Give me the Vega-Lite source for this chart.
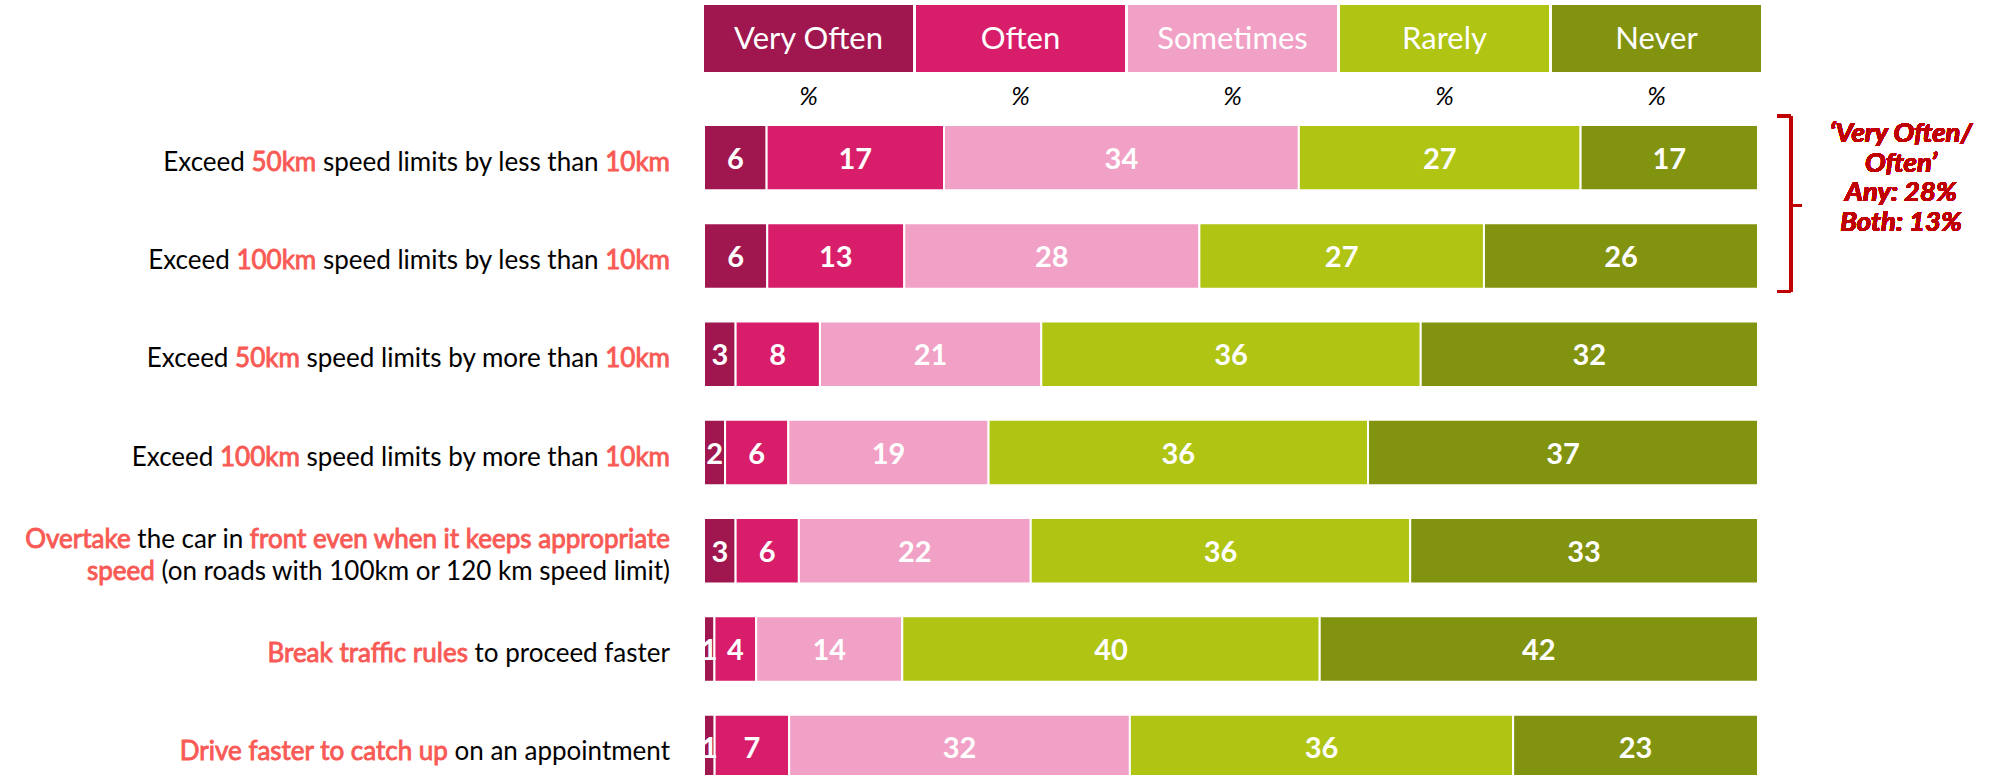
{
  "$schema": "https://vega.github.io/schema/vega-lite/v6.json",
  "padding": {"left": 24, "top": 5, "right": 5, "bottom": 0},
  "spacing": 5,
  "config": {"font": "Lato", "view": {"stroke": null}},
  "datasets": {
    "scale": [
      {"resp": "Very Often", "k": 1},
      {"resp": "Often", "k": 2},
      {"resp": "Sometimes", "k": 3},
      {"resp": "Rarely", "k": 4},
      {"resp": "Never", "k": 5}
    ],
    "bars": [
      {"item": "Exceed 50km speed limits by less than 10km", "resp": "Very Often", "k": 1, "pct": 6},
      {"item": "Exceed 50km speed limits by less than 10km", "resp": "Often", "k": 2, "pct": 17},
      {"item": "Exceed 50km speed limits by less than 10km", "resp": "Sometimes", "k": 3, "pct": 34},
      {"item": "Exceed 50km speed limits by less than 10km", "resp": "Rarely", "k": 4, "pct": 27},
      {"item": "Exceed 50km speed limits by less than 10km", "resp": "Never", "k": 5, "pct": 17},
      {"item": "Exceed 100km speed limits by less than 10km", "resp": "Very Often", "k": 1, "pct": 6},
      {"item": "Exceed 100km speed limits by less than 10km", "resp": "Often", "k": 2, "pct": 13},
      {"item": "Exceed 100km speed limits by less than 10km", "resp": "Sometimes", "k": 3, "pct": 28},
      {"item": "Exceed 100km speed limits by less than 10km", "resp": "Rarely", "k": 4, "pct": 27},
      {"item": "Exceed 100km speed limits by less than 10km", "resp": "Never", "k": 5, "pct": 26},
      {"item": "Exceed 50km speed limits by more than 10km", "resp": "Very Often", "k": 1, "pct": 3},
      {"item": "Exceed 50km speed limits by more than 10km", "resp": "Often", "k": 2, "pct": 8},
      {"item": "Exceed 50km speed limits by more than 10km", "resp": "Sometimes", "k": 3, "pct": 21},
      {"item": "Exceed 50km speed limits by more than 10km", "resp": "Rarely", "k": 4, "pct": 36},
      {"item": "Exceed 50km speed limits by more than 10km", "resp": "Never", "k": 5, "pct": 32},
      {"item": "Exceed 100km speed limits by more than 10km", "resp": "Very Often", "k": 1, "pct": 2},
      {"item": "Exceed 100km speed limits by more than 10km", "resp": "Often", "k": 2, "pct": 6},
      {"item": "Exceed 100km speed limits by more than 10km", "resp": "Sometimes", "k": 3, "pct": 19},
      {"item": "Exceed 100km speed limits by more than 10km", "resp": "Rarely", "k": 4, "pct": 36},
      {"item": "Exceed 100km speed limits by more than 10km", "resp": "Never", "k": 5, "pct": 37},
      {"item": "Overtake the car in front even when it keeps appropriate speed (on roads with 100km or 120 km speed limit)", "resp": "Very Often", "k": 1, "pct": 3},
      {"item": "Overtake the car in front even when it keeps appropriate speed (on roads with 100km or 120 km speed limit)", "resp": "Often", "k": 2, "pct": 6},
      {"item": "Overtake the car in front even when it keeps appropriate speed (on roads with 100km or 120 km speed limit)", "resp": "Sometimes", "k": 3, "pct": 22},
      {"item": "Overtake the car in front even when it keeps appropriate speed (on roads with 100km or 120 km speed limit)", "resp": "Rarely", "k": 4, "pct": 36},
      {"item": "Overtake the car in front even when it keeps appropriate speed (on roads with 100km or 120 km speed limit)", "resp": "Never", "k": 5, "pct": 33},
      {"item": "Break traffic rules to proceed faster", "resp": "Very Often", "k": 1, "pct": 1},
      {"item": "Break traffic rules to proceed faster", "resp": "Often", "k": 2, "pct": 4},
      {"item": "Break traffic rules to proceed faster", "resp": "Sometimes", "k": 3, "pct": 14},
      {"item": "Break traffic rules to proceed faster", "resp": "Rarely", "k": 4, "pct": 40},
      {"item": "Break traffic rules to proceed faster", "resp": "Never", "k": 5, "pct": 42},
      {"item": "Drive faster to catch up on an appointment", "resp": "Very Often", "k": 1, "pct": 1},
      {"item": "Drive faster to catch up on an appointment", "resp": "Often", "k": 2, "pct": 7},
      {"item": "Drive faster to catch up on an appointment", "resp": "Sometimes", "k": 3, "pct": 32},
      {"item": "Drive faster to catch up on an appointment", "resp": "Rarely", "k": 4, "pct": 36},
      {"item": "Drive faster to catch up on an appointment", "resp": "Never", "k": 5, "pct": 23}
    ],
    "labels": [
      {"item": "Exceed 50km speed limits by less than 10km", "seq": 1, "emph": false, "text": "Exceed 50km speed limits by less than 10km"},
      {"item": "Exceed 50km speed limits by less than 10km", "seq": 2, "emph": true, "text": "50km speed limits by less than 10km"},
      {"item": "Exceed 50km speed limits by less than 10km", "seq": 3, "emph": false, "text": "speed limits by less than 10km"},
      {"item": "Exceed 50km speed limits by less than 10km", "seq": 4, "emph": true, "text": "10km"},
      {"item": "Exceed 100km speed limits by less than 10km", "seq": 1, "emph": false, "text": "Exceed 100km speed limits by less than 10km"},
      {"item": "Exceed 100km speed limits by less than 10km", "seq": 2, "emph": true, "text": "100km speed limits by less than 10km"},
      {"item": "Exceed 100km speed limits by less than 10km", "seq": 3, "emph": false, "text": "speed limits by less than 10km"},
      {"item": "Exceed 100km speed limits by less than 10km", "seq": 4, "emph": true, "text": "10km"},
      {"item": "Exceed 50km speed limits by more than 10km", "seq": 1, "emph": false, "text": "Exceed 50km speed limits by more than 10km"},
      {"item": "Exceed 50km speed limits by more than 10km", "seq": 2, "emph": true, "text": "50km speed limits by more than 10km"},
      {"item": "Exceed 50km speed limits by more than 10km", "seq": 3, "emph": false, "text": "speed limits by more than 10km"},
      {"item": "Exceed 50km speed limits by more than 10km", "seq": 4, "emph": true, "text": "10km"},
      {"item": "Exceed 100km speed limits by more than 10km", "seq": 1, "emph": false, "text": "Exceed 100km speed limits by more than 10km"},
      {"item": "Exceed 100km speed limits by more than 10km", "seq": 2, "emph": true, "text": "100km speed limits by more than 10km"},
      {"item": "Exceed 100km speed limits by more than 10km", "seq": 3, "emph": false, "text": "speed limits by more than 10km"},
      {"item": "Exceed 100km speed limits by more than 10km", "seq": 4, "emph": true, "text": "10km"},
      {"item": "Overtake the car in front even when it keeps appropriate speed (on roads with 100km or 120 km speed limit)", "seq": 1, "emph": true, "text": "Overtake the car in front even when it keeps appropriate\nspeed (on roads with 100km or 120 km speed limit)"},
      {"item": "Overtake the car in front even when it keeps appropriate speed (on roads with 100km or 120 km speed limit)", "seq": 2, "emph": false, "text": "the car in front even when it keeps appropriate\n(on roads with 100km or 120 km speed limit)"},
      {"item": "Overtake the car in front even when it keeps appropriate speed (on roads with 100km or 120 km speed limit)", "seq": 3, "emph": true, "text": "front even when it keeps appropriate\n"},
      {"item": "Break traffic rules to proceed faster", "seq": 1, "emph": true, "text": "Break traffic rules to proceed faster"},
      {"item": "Break traffic rules to proceed faster", "seq": 2, "emph": false, "text": "to proceed faster"},
      {"item": "Drive faster to catch up on an appointment", "seq": 1, "emph": true, "text": "Drive faster to catch up on an appointment"},
      {"item": "Drive faster to catch up on an appointment", "seq": 2, "emph": false, "text": "on an appointment"}
    ]
  },
  "vconcat": [
    {
      "width": 1057,
      "height": 67,
      "data": {"name": "scale"},
      "encoding": {
        "x": {
          "field": "resp", "type": "nominal",
          "sort": ["Very Often", "Often", "Sometimes", "Rarely", "Never"],
          "scale": {"paddingInner": 0.014, "paddingOuter": 0},
          "axis": {"orient": "bottom", "title": null, "domain": false, "ticks": false, "labelExpr": "'%'", "labelFontStyle": "italic", "labelFontSize": 25, "labelColor": "#000000", "labelPadding": 12, "labelAngle": 0}
        }
      },
      "layer": [
        {
          "mark": {"type": "rect"},
          "encoding": {
            "color": {"field": "resp", "type": "nominal", "scale": {"domain": ["Very Often", "Often", "Sometimes", "Rarely", "Never"], "range": ["#A0174F", "#D81E6A", "#F1A1C5", "#AFC413", "#82930F"]}, "legend": null}
          }
        },
        {
          "mark": {"type": "text", "color": "#FFFFFF", "fontSize": 31, "baseline": "middle", "dy": 1},
          "encoding": {"text": {"field": "resp"}}
        }
      ]
    },
    {
      "width": 1054,
      "height": 655,
      "data": {"name": "bars"},
      "layer": [
        {
          "mark": {"type": "bar", "stroke": "#FFFFFF", "strokeWidth": 2},
          "encoding": {
            "y": {"field": "item", "type": "nominal", "axis": null, "scale": {"domain": ["Exceed 50km speed limits by less than 10km", "Exceed 100km speed limits by less than 10km", "Exceed 50km speed limits by more than 10km", "Exceed 100km speed limits by more than 10km", "Overtake the car in front even when it keeps appropriate speed (on roads with 100km or 120 km speed limit)", "Break traffic rules to proceed faster", "Drive faster to catch up on an appointment"], "paddingInner": 0.335, "paddingOuter": 0}},
            "x": {"field": "pct", "type": "quantitative", "stack": "normalize", "axis": null, "scale": {"domain": [0, 1], "nice": false}},
            "color": {"field": "resp", "type": "nominal", "scale": {"domain": ["Very Often", "Often", "Sometimes", "Rarely", "Never"], "range": ["#A0174F", "#D81E6A", "#F1A1C5", "#AFC413", "#82930F"]}, "legend": null},
            "order": {"field": "k", "type": "quantitative"}
          }
        },
        {
          "mark": {"type": "text", "color": "#FFFFFF", "fontSize": 29, "fontWeight": "bold", "baseline": "middle", "dy": 2},
          "encoding": {
            "y": {"field": "item", "type": "nominal"},
            "x": {"field": "pct", "type": "quantitative", "stack": "normalize", "bandPosition": 0.5},
            "detail": {"field": "resp"},
            "order": {"field": "k", "type": "quantitative"},
            "text": {"field": "pct", "type": "quantitative"}
          }
        },
        {
          "data": {"name": "labels"},
          "transform": [{"filter": "datum.seq == 1"}],
          "mark": {"type": "text", "align": "right", "baseline": "middle", "dx": -34, "dy": {"expr": "indexof(datum.text, '\\n') >= 0 ? -11 : 5"}, "fontSize": 26, "lineHeight": 32, "lineBreak": "\n"},
          "encoding": {
            "y": {"field": "item", "type": "nominal"},
            "x": {"datum": 0, "type": "quantitative"},
            "text": {"field": "text"},
            "fill": {"condition": {"test": "datum.emph", "value": "#F95A55"}, "value": "#000000"},
            "stroke": {"condition": {"test": "datum.emph", "value": "#F95A55"}, "value": "transparent"},
            "strokeWidth": {"condition": {"test": "datum.emph", "value": 0.9}, "value": 0}
          }
        },
        {
          "data": {"name": "labels"},
          "transform": [{"filter": "datum.seq == 2"}],
          "mark": {"type": "text", "align": "right", "baseline": "middle", "dx": -34, "dy": {"expr": "indexof(datum.text, '\\n') >= 0 ? -11 : 5"}, "fontSize": 26, "lineHeight": 32, "lineBreak": "\n", "fill": "#FFFFFF", "stroke": "#FFFFFF", "strokeWidth": 2.2},
          "encoding": {
            "y": {"field": "item", "type": "nominal"},
            "x": {"datum": 0, "type": "quantitative"},
            "text": {"field": "text"}
          }
        },
        {
          "data": {"name": "labels"},
          "transform": [{"filter": "datum.seq == 2"}],
          "mark": {"type": "text", "align": "right", "baseline": "middle", "dx": -34, "dy": {"expr": "indexof(datum.text, '\\n') >= 0 ? -11 : 5"}, "fontSize": 26, "lineHeight": 32, "lineBreak": "\n"},
          "encoding": {
            "y": {"field": "item", "type": "nominal"},
            "x": {"datum": 0, "type": "quantitative"},
            "text": {"field": "text"},
            "fill": {"condition": {"test": "datum.emph", "value": "#F95A55"}, "value": "#000000"},
            "stroke": {"condition": {"test": "datum.emph", "value": "#F95A55"}, "value": "transparent"},
            "strokeWidth": {"condition": {"test": "datum.emph", "value": 0.9}, "value": 0}
          }
        },
        {
          "data": {"name": "labels"},
          "transform": [{"filter": "datum.seq == 3"}],
          "mark": {"type": "text", "align": "right", "baseline": "middle", "dx": -34, "dy": {"expr": "indexof(datum.text, '\\n') >= 0 ? -11 : 5"}, "fontSize": 26, "lineHeight": 32, "lineBreak": "\n", "fill": "#FFFFFF", "stroke": "#FFFFFF", "strokeWidth": 2.2},
          "encoding": {
            "y": {"field": "item", "type": "nominal"},
            "x": {"datum": 0, "type": "quantitative"},
            "text": {"field": "text"}
          }
        },
        {
          "data": {"name": "labels"},
          "transform": [{"filter": "datum.seq == 3"}],
          "mark": {"type": "text", "align": "right", "baseline": "middle", "dx": -34, "dy": {"expr": "indexof(datum.text, '\\n') >= 0 ? -11 : 5"}, "fontSize": 26, "lineHeight": 32, "lineBreak": "\n"},
          "encoding": {
            "y": {"field": "item", "type": "nominal"},
            "x": {"datum": 0, "type": "quantitative"},
            "text": {"field": "text"},
            "fill": {"condition": {"test": "datum.emph", "value": "#F95A55"}, "value": "#000000"},
            "stroke": {"condition": {"test": "datum.emph", "value": "#F95A55"}, "value": "transparent"},
            "strokeWidth": {"condition": {"test": "datum.emph", "value": 0.9}, "value": 0}
          }
        },
        {
          "data": {"name": "labels"},
          "transform": [{"filter": "datum.seq == 4"}],
          "mark": {"type": "text", "align": "right", "baseline": "middle", "dx": -34, "dy": {"expr": "indexof(datum.text, '\\n') >= 0 ? -11 : 5"}, "fontSize": 26, "lineHeight": 32, "lineBreak": "\n", "fill": "#FFFFFF", "stroke": "#FFFFFF", "strokeWidth": 2.2},
          "encoding": {
            "y": {"field": "item", "type": "nominal"},
            "x": {"datum": 0, "type": "quantitative"},
            "text": {"field": "text"}
          }
        },
        {
          "data": {"name": "labels"},
          "transform": [{"filter": "datum.seq == 4"}],
          "mark": {"type": "text", "align": "right", "baseline": "middle", "dx": -34, "dy": {"expr": "indexof(datum.text, '\\n') >= 0 ? -11 : 5"}, "fontSize": 26, "lineHeight": 32, "lineBreak": "\n"},
          "encoding": {
            "y": {"field": "item", "type": "nominal"},
            "x": {"datum": 0, "type": "quantitative"},
            "text": {"field": "text"},
            "fill": {"condition": {"test": "datum.emph", "value": "#F95A55"}, "value": "#000000"},
            "stroke": {"condition": {"test": "datum.emph", "value": "#F95A55"}, "value": "transparent"},
            "strokeWidth": {"condition": {"test": "datum.emph", "value": 0.9}, "value": 0}
          }
        },
        {
          "mark": {"type": "rule", "color": "#C00000", "strokeWidth": 2.5, "yOffset": -9, "y2Offset": 3},
          "encoding": {
            "x": {"datum": 1.0313, "type": "quantitative"},
            "y": {"datum": "Exceed 50km speed limits by less than 10km", "type": "nominal", "bandPosition": 0},
            "y2": {"datum": "Exceed 100km speed limits by less than 10km", "bandPosition": 1}
          }
        },
        {
          "mark": {"type": "rule", "color": "#C00000", "strokeWidth": 2.5, "yOffset": -9},
          "encoding": {
            "x": {"datum": 1.018, "type": "quantitative"},
            "x2": {"datum": 1.0313},
            "y": {"datum": "Exceed 50km speed limits by less than 10km", "type": "nominal", "bandPosition": 0}
          }
        },
        {
          "mark": {"type": "rule", "color": "#C00000", "strokeWidth": 2.5, "yOffset": 3},
          "encoding": {
            "x": {"datum": 1.018, "type": "quantitative"},
            "x2": {"datum": 1.0313},
            "y": {"datum": "Exceed 100km speed limits by less than 10km", "type": "nominal", "bandPosition": 1}
          }
        },
        {
          "mark": {"type": "rule", "color": "#C00000", "strokeWidth": 2.5, "yOffset": 15},
          "encoding": {
            "x": {"datum": 1.0313, "type": "quantitative"},
            "x2": {"datum": 1.0417},
            "y": {"datum": "Exceed 50km speed limits by less than 10km", "type": "nominal", "bandPosition": 1}
          }
        },
        {
          "mark": {"type": "text", "color": "#C00000", "fontSize": 27.5, "fontWeight": "bold", "fontStyle": "italic", "align": "center", "baseline": "middle", "lineHeight": 29.5},
          "encoding": {
            "x": {"datum": 1.1357, "type": "quantitative"},
            "y": {"datum": "Exceed 50km speed limits by less than 10km", "type": "nominal", "bandPosition": 0.14},
            "text": {"value": ["‘Very Often/", "Often’", "Any: 28%", "Both: 13%"]}
          }
        }
      ]
    }
  ]
}
